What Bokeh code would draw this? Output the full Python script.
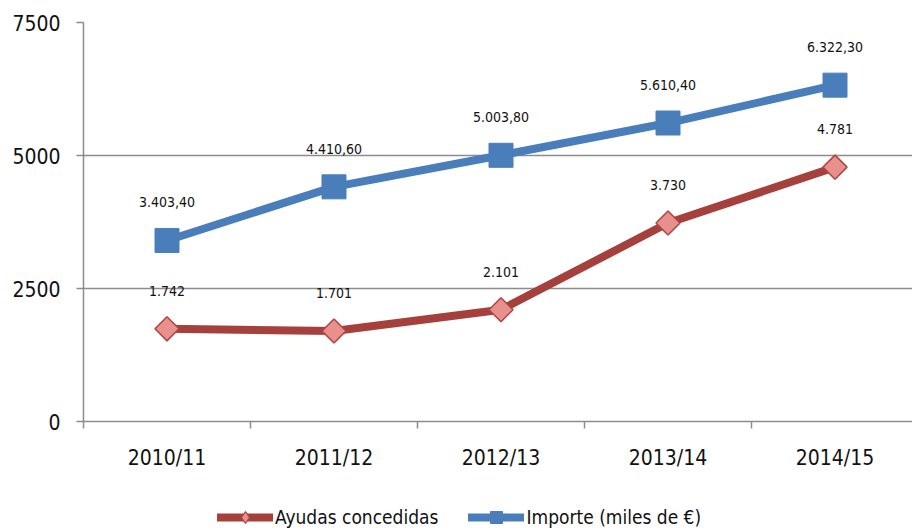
import math
from bokeh.plotting import figure
from bokeh.layouts import column
from bokeh.models import Range1d, FixedTicker, Legend, LegendItem, ColumnDataSource
from bokeh.core.properties import value
from bokeh.embed import file_html
from bokeh.resources import INLINE

categories = ["2010/11", "2011/12", "2012/13", "2013/14", "2014/15"]
ayudas = [1742, 1701, 2101, 3730, 4781]
ayudas_labels = ["1.742", "1.701", "2.101", "3.730", "4.781"]
importe = [3403.4, 4410.6, 5003.8, 5610.4, 6322.3]
importe_labels = ["3.403,40", "4.410,60", "5.003,80", "5.610,40", "6.322,30"]
y_ticks = [0, 2500, 5000, 7500]
series_names = ["Ayudas concedidas", "Importe (miles de €)"]

FONT = "'DejaVu Sans Condensed', 'Liberation Sans Narrow', sans-serif"
RED = "#A5403D"
RED_FILL = "#E8908D"
RED_EDGE = "#B0443F"
BLUE = "#4A7EBB"
GRID = "#8C8C8C"

xs = list(range(len(categories)))
src_a = ColumnDataSource(dict(x=xs, y=ayudas, lab=ayudas_labels))
src_i = ColumnDataSource(dict(x=xs, y=importe, lab=importe_labels))

p = figure(width=912, height=480, output_backend="svg", toolbar_location=None,
           x_range=Range1d(-0.5, 4.464), y_range=Range1d(0, 7500),
           min_border_left=83, min_border_right=0, min_border_top=22,
           min_border_bottom=59)
p.outline_line_color = None
p.background_fill_color = "white"
p.border_fill_color = "white"

# y axis
p.yaxis.ticker = FixedTicker(ticks=y_ticks)
p.yaxis.axis_line_color = GRID
p.yaxis.axis_line_width = 1.5
p.yaxis.major_tick_line_color = GRID
p.yaxis.major_tick_line_width = 1.5
p.yaxis.major_tick_in = 0
p.yaxis.major_tick_out = 7
p.yaxis.minor_tick_line_color = None
p.yaxis.major_label_text_font = FONT
p.yaxis.major_label_text_font_size = "21px"
p.yaxis.major_label_text_color = "#111111"
p.yaxis.major_label_standoff = 16

# x axis
p.xaxis.ticker = FixedTicker(ticks=xs, minor_ticks=[-0.5, 0.5, 1.5, 2.5, 3.5, 4.5])
p.xaxis.major_label_overrides = {i: c for i, c in enumerate(categories)}
p.xaxis.axis_line_color = GRID
p.xaxis.axis_line_width = 1.5
p.xaxis.major_tick_line_color = None
p.xaxis.minor_tick_line_color = GRID
p.xaxis.minor_tick_line_width = 1.5
p.xaxis.minor_tick_in = 0
p.xaxis.minor_tick_out = 7
p.xaxis.major_tick_out = 7
p.xaxis.major_tick_in = 0
p.xaxis.major_label_text_font = FONT
p.xaxis.major_label_text_font_size = "21px"
p.xaxis.major_label_text_color = "#111111"
p.xaxis.major_label_standoff = 17

p.xgrid.grid_line_color = None
p.ygrid.ticker = FixedTicker(ticks=[2500, 5000, 7500])
p.ygrid.grid_line_color = GRID
p.ygrid.grid_line_width = 1.5

# series
p.line("x", "y", source=src_a, line_color=RED, line_width=8, line_join="round", line_cap="round")
p.scatter("x", "y", source=src_a, marker="square", angle=math.pi / 4, size=17,
          fill_color=RED_FILL, line_color=RED_EDGE, line_width=1.5)
p.line("x", "y", source=src_i, line_color=BLUE, line_width=8, line_join="round", line_cap="round")
p.scatter("x", "y", source=src_i, marker="square", size=24,
          fill_color=BLUE, line_color=BLUE)

for s in (src_a, src_i):
    p.text("x", "y", text="lab", source=s, y_offset=-38, text_align="center",
           text_baseline="middle", text_font=value(FONT), text_font_size="14px",
           text_color="#111111")

# legend strip (its ranges keep the series data out of view; only the legend shows)
lg = figure(width=912, height=52, output_backend="svg", toolbar_location=None,
            x_range=Range1d(100, 101), y_range=Range1d(100000, 100001),
            min_border_left=0, min_border_right=0, min_border_top=0, min_border_bottom=0)
lg.axis.visible = False
lg.grid.visible = False
lg.outline_line_color = None
la = lg.line("x", "y", source=src_a, line_color=RED, line_width=8, line_cap="round")
ma = lg.scatter("x", "y", source=src_a, marker="diamond", size=12,
                fill_color=RED_FILL, line_color=RED_EDGE, line_width=1.2)
li = lg.line("x", "y", source=src_i, line_color=BLUE, line_width=8, line_cap="round")
mi = lg.scatter("x", "y", source=src_i, marker="square", size=14,
                fill_color=BLUE, line_color=BLUE)

legend = Legend(items=[LegendItem(label=series_names[0], renderers=[la, ma]),
                       LegendItem(label=series_names[1], renderers=[li, mi])],
                orientation="horizontal", location=(134, 0),
                label_text_font=FONT, label_text_font_size="19px",
                label_text_color="#111111", glyph_width=56, glyph_height=30,
                label_standoff=2, spacing=30, border_line_color=None,
                background_fill_alpha=0, padding=0, margin=0)
lg.add_layout(legend)

layout = column(p, lg, spacing=0)
open("out.html", "w").write(file_html(layout, INLINE))
